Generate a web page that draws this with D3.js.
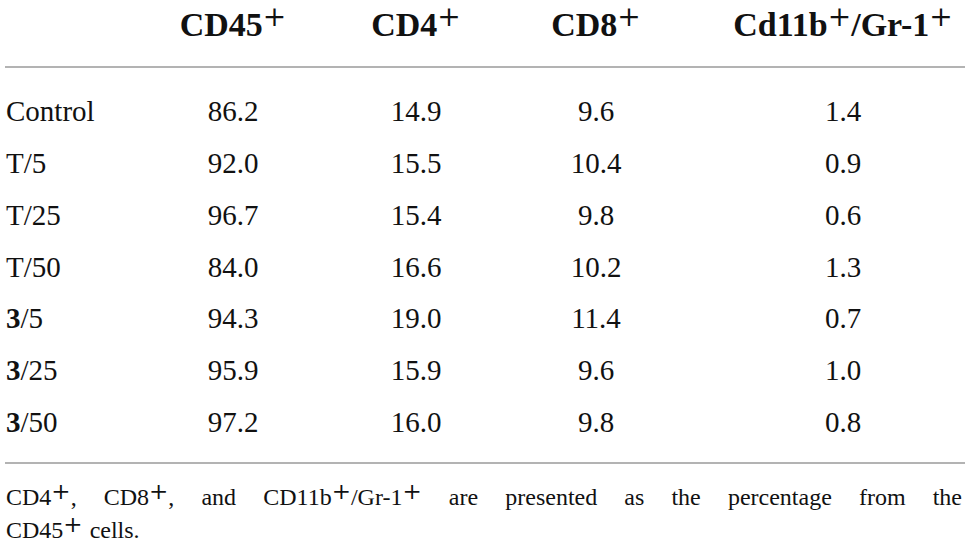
<!DOCTYPE html>
<html>
<head>
<meta charset="utf-8">
<script src="https://cdn.jsdelivr.net/npm/d3@7"></script>
<style>
  html, body { margin: 0; padding: 0; background: #fff; }
  svg { display: block; }
</style>
</head>
<body>
<div id="chart"></div>
<script>
// table data
const groups = ["Control", "T/5", "T/25", "T/50", "3/5", "3/25", "3/50"];
const headers = ["CD45", "CD4", "CD8", "Cd11b/Gr-1"];
const cd45 = [86.2, 92.0, 96.7, 84.0, 94.3, 95.9, 97.2];
const cd4 = [14.9, 15.5, 15.4, 16.6, 19.0, 15.9, 16.0];
const cd8 = [9.6, 10.4, 9.8, 10.2, 11.4, 9.6, 9.8];
const cd11b = [1.4, 0.9, 0.6, 1.3, 0.7, 1.0, 0.8];
const footLines = [
	"CD4+, CD8+, and CD11b+/Gr-1+ are presented as the percentage from the",
	"CD45+ cells."
];

const width = 968, height = 550;
const fontFamily = "'Liberation Serif', 'DejaVu Serif', serif";
const supFamily = "'DejaVu Serif', serif";
const lineColor = "#9a9a9a";

const svg = d3.select("#chart").append("svg")
	.attr("width", width)
	.attr("height", height);

// columns
const x = d3.scaleOrdinal()
	.domain(headers)
	.range([233, 416, 596, 843]);

// row baselines
const y = d3.scalePoint()
	.domain(groups)
	.range([121, 432]);

const columns = [cd45, cd4, cd8, cd11b];

// writes a string into a text element, "+" becomes a raised plus
function addSup(textEl, str, supSize, rise) {
	let parts = str.split("+");
	let raised = false;
	parts.forEach(function (p, i) {
		if (p.length > 0) {
			textEl.append("tspan")
				.attr("dy", raised ? rise : 0)
				.text(p);
			raised = false;
		}
		if (i < parts.length - 1) {
			textEl.append("tspan")
				.attr("font-family", supFamily)
				.attr("font-size", supSize)
				.attr("font-weight", "normal")
				.attr("dy", -rise)
				.text("+");
			raised = true;
		}
	});
}

// header
headers.forEach(function (h) {
	let t = svg.append("text")
		.attr("x", x(h))
		.attr("y", 36)
		.attr("font-family", fontFamily)
		.attr("font-weight", "bold")
		.attr("font-size", 34)
		.attr("fill", "#111")
		.attr("text-anchor", "middle");
	let label = h === "Cd11b/Gr-1" ? "Cd11b+/Gr-1+" : h + "+";
	addSup(t, label, 28, 10);
});

// rules
[67, 463].forEach(function (ly) {
	svg.append("line")
		.attr("x1", 5).attr("x2", 965)
		.attr("y1", ly).attr("y2", ly)
		.attr("stroke", lineColor)
		.attr("stroke-width", 1.5);
});

// row labels, the leading "3" is bold
groups.forEach(function (g) {
	let t = svg.append("text")
		.attr("x", 6)
		.attr("y", y(g))
		.attr("font-family", fontFamily)
		.attr("font-size", 29)
		.attr("fill", "#111");
	if (g.charAt(0) === "3") {
		t.append("tspan").attr("font-weight", "bold").text("3");
		t.append("tspan").text(g.slice(1));
	} else {
		t.text(g);
	}
});

// values
columns.forEach(function (col, c) {
	svg.append("g").selectAll("text")
		.data(col)
		.join("text")
		.attr("x", x(headers[c]))
		.attr("y", (d, i) => y(groups[i]))
		.attr("font-family", fontFamily)
		.attr("font-size", 29)
		.attr("fill", "#111")
		.attr("text-anchor", "middle")
		.text(d => d3.format(".1f")(d));
});

// footnote, first line justified
const footX0 = 6, footX1 = 962;
footLines.forEach(function (line, li) {
	let ly = 505 + li * 33;
	let words = line.split(" ");
	let g = svg.append("g");
	let nodes = words.map(function (w) {
		let t = g.append("text")
			.attr("y", ly)
			.attr("font-family", fontFamily)
			.attr("font-size", 24)
			.attr("fill", "#111");
		addSup(t, w, 23, 6);
		return t;
	});
	let widths = nodes.map(n => n.node().getComputedTextLength());
	let total = d3.sum(widths);
	let gap = li === footLines.length - 1 ? 7 : (footX1 - footX0 - total) / (words.length - 1);
	let cx = footX0;
	nodes.forEach(function (n, i) {
		n.attr("x", cx);
		cx += widths[i] + gap;
	});
});
</script>
</body>
</html>
